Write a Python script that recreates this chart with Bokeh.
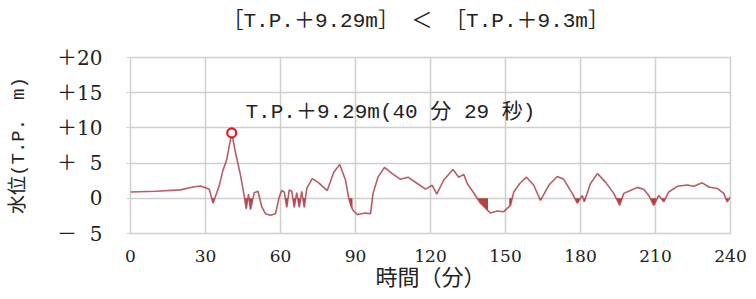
import numpy as np
from bokeh.plotting import figure
from bokeh.models import FixedTicker, Label, Range1d
from bokeh.embed import file_html
from bokeh.resources import INLINE

# ---- data ----
time_min = [0, 10, 20, 25, 28, 30, 31.5, 33, 34.5, 35.5, 37, 38.5, 40.48, 42, 44,
            45.5, 46.3, 47.2, 48, 49.5, 51, 52.5, 54, 56, 58, 59.5, 60.5, 61.5, 62.5,
            63.5, 64.5, 65.5, 66.5, 67.5, 68.5, 69.5, 70.5, 72.7, 75.3, 78.7, 81.3,
            83.7, 86, 87.3, 88.3, 89, 90.7, 94, 96, 97, 99, 101.6, 104.7, 108, 111,
            114.7, 118, 120.7, 122.5, 125.3, 129, 131.3, 133.3, 134.7, 137.3, 140,
            142, 144, 146.7, 149.3, 152, 153.3, 155.7, 158.4, 161.3, 164, 167.3,
            170.7, 173.3, 176.7, 178.7, 180.7, 181.5, 184, 186.8, 190, 193.3, 195.7,
            197.3, 200, 202.7, 205.3, 207.3, 209.3, 211.3, 213.3, 215.3, 218.7,
            222.7, 225.3, 228.7, 231.3, 234.7, 237.3, 238.7, 240]
level_m = [0.9, 1.0, 1.2, 1.6, 1.75, 1.5, 1.3, -0.7, 0.8, 1.8, 4.0, 5.5, 9.29, 6.5, 3.3,
           0.3, -1.5, 0.6, -1.6, 0.8, 1.0, -1.2, -2.2, -2.4, -2.2, 0.2, 1.1, 0.9, -1.3,
           1.2, 1.0, -1.3, 0.8, -1.3, 1.0, -1.3, 1.4, 2.8, 2.2, 1.1, 3.7,
           4.8, 2.6, 0.0, -1.2, -1.7, -2.3, -2.1, -2.2, 0.7, 3.0, 4.4, 3.5, 2.7, 3.0,
           2.1, 1.3, 1.85, 0.6, 2.6, 4.1, 3.0, 3.4, 2.1, 0.75, -0.7,
           -1.4, -2.1, -1.8, -1.9, -1.0, 0.9, 2.1, 3.0, 1.85, -0.3, 1.85,
           3.1, 2.7, 0.7, -0.7, 0.4, -0.5, 2.1, 3.5, 2.3, 0.7, -1.0,
           0.7, 1.1, 1.55, 1.3, 0.4, -1.0, 0.4, -0.5, 0.9, 1.7,
           1.9, 1.7, 2.2, 1.6, 1.4, 0.7, -0.5, 0.2]
# time spans where the area below T.P. 0 is shaded
shade_start = [32.0, 45.5, 61.5, 64.8, 67.0, 68.9, 87.3, 138.5, 151.5, 163.6, 177.5, 180.9, 194.5, 208.3, 212.6, 238.0]
shade_end = [34.3, 48.6, 63.0, 66.2, 68.0, 70.0, 88.8, 143.0, 153.0, 164.6, 179.6, 182.4, 196.6, 210.3, 214.2, 239.6]
peak_time = [40.48]
peak_level = [9.29]
peak_text = "T.P.＋9.29m(40 分 29 秒)"
title_text = "［T.P.＋9.29m］ ＜ ［T.P.＋9.3m］"
x_ticks = [0, 30, 60, 90, 120, 150, 180, 210, 240]
y_ticks = [-5, 0, 5, 10, 15, 20]
y_tick_labels = ["－\u20075", "0", "＋\u20075", "＋10", "＋15", "＋20"]

MONO = "'Liberation Mono', 'Noto Sans CJK JP'"
CJK = "'Liberation Mono', 'Noto Sans CJK JP'"
SERIF = "'DejaVu Serif', 'Noto Sans CJK JP'"
GRID = "#cfcfcf"

p = figure(width=748, height=299, output_backend="svg", toolbar_location=None,
           x_range=Range1d(0, 240), y_range=Range1d(-5, 20),
           min_border_left=130, min_border_right=18, min_border_top=57,
           min_border_bottom=66)

# a blank second line keeps the title box tall so the text sits high above the frame
p.title.text = title_text + "\n\u3000"
p.title.text_font = MONO
p.title.text_font_size = "21px"
p.title.text_font_style = "normal"
p.title.align = "left"
p.title.offset = 92
p.title.vertical_align = "top"
p.title.standoff = 0
p.title.text_color = "#222222"

p.outline_line_color = GRID
p.outline_line_width = 1.5
p.xgrid.grid_line_color = GRID
p.ygrid.grid_line_color = GRID
p.xgrid.grid_line_width = 1.5
p.ygrid.grid_line_width = 1.5

p.xaxis.ticker = FixedTicker(ticks=x_ticks)
p.yaxis.ticker = FixedTicker(ticks=y_ticks)
p.yaxis.major_label_overrides = {t: s for t, s in zip(y_ticks, y_tick_labels)}

for ax in (p.xaxis[0], p.yaxis[0]):
    ax.axis_line_color = None
    ax.minor_tick_line_color = None
    ax.major_label_text_font = SERIF
    ax.major_label_text_color = "#222222"
    ax.axis_label_text_font = CJK
    ax.axis_label_text_font_style = "normal"
    ax.axis_label_text_color = "#222222"
    ax.axis_label_text_font_size = "19px"

p.xaxis.major_tick_line_color = None
p.xaxis.major_tick_out = 0
p.xaxis.major_label_text_font_size = "17px"
p.xaxis.major_label_standoff = 16
p.xaxis.axis_label = "時間（分）"
p.xaxis.axis_label_text_font_size = "22px"
p.xaxis.axis_label_standoff = 2

p.yaxis.major_tick_line_color = GRID
p.yaxis.major_tick_out = 4
p.yaxis.major_tick_in = 0
p.yaxis.major_label_text_font_size = "20px"
p.yaxis.major_label_standoff = 24
p.yaxis.axis_label = "水位(T.P.　m)"
p.yaxis.axis_label_standoff = 24

t_arr = np.array(time_min, dtype=float)
v_arr = np.array(level_m, dtype=float)
for a, b in zip(shade_start, shade_end):
    xs = np.linspace(a, b, 120)
    ys = np.minimum(np.interp(xs, t_arr, v_arr), 0.0)
    p.varea(x=xs, y1=np.zeros_like(xs), y2=ys, fill_color="#b02a2a", fill_alpha=0.9)

p.line(time_min, level_m, line_color="#b04a55", line_width=1.6, line_alpha=0.9)

p.scatter(peak_time, peak_level, size=9, fill_color="white", line_color="#e8141c",
          line_width=2.2)

p.add_layout(Label(x=46, y=12.2, text=peak_text, text_font=MONO, text_font_size="21px",
                   text_baseline="middle", text_color="#222222"))

open("out.html", "w").write(file_html(p, INLINE))
